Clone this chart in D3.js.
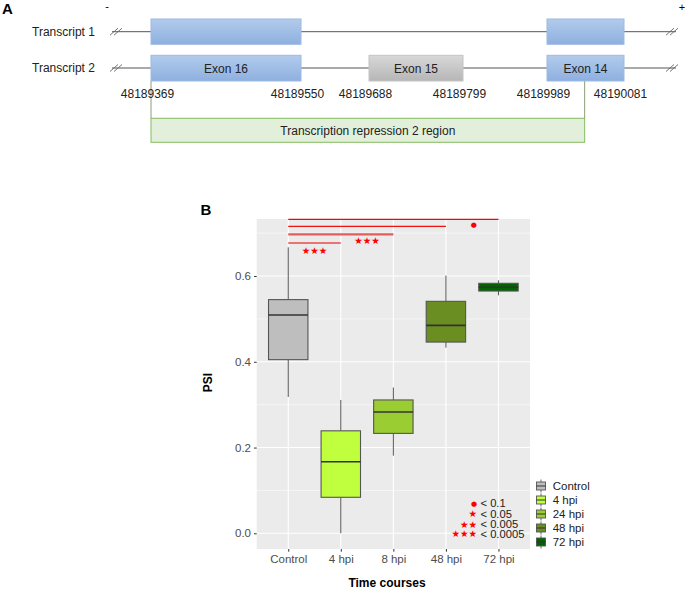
<!DOCTYPE html>
<html><head><meta charset="utf-8">
<script src="https://cdn.jsdelivr.net/npm/d3@7"></script>
<style>
body{margin:0;background:#fff;}
svg{display:block;font-family:"Liberation Sans",Arial,sans-serif;}
</style></head>
<body>
<svg id="c" width="685" height="589"></svg>
<script>
// ---------- Panel A data ----------
const transcripts = ["Transcript 1", "Transcript 2"];
const exonBounds = [48189369, 48189550, 48189688, 48189799, 48189989, 48190081];
const exonNames = ["Exon 16", "Exon 15", "Exon 14"];
const transcript1Exons = [[48189369, 48189550], [48189989, 48190081]];
const transcript2Exons = [[48189369, 48189550, "Exon 16"], [48189688, 48189799, "Exon 15"], [48189989, 48190081, "Exon 14"]];
const regionLabel = "Transcription repression 2 region";
const regionSpan = [48189369, 48190034];

// ---------- Panel B data ----------
const categories = ["Control", "4 hpi", "8 hpi", "48 hpi", "72 hpi"];
const legendLabels = ["Control", "4 hpi", "24 hpi", "48 hpi", "72 hpi"];
const fills = ["#bebebe", "#c0ff3e", "#9acd32", "#6b8e23", "#006400"];
const whiskerLow = [0.318, 0.000, 0.181, 0.433, 0.555];
const q1 = [0.405, 0.084, 0.233, 0.446, 0.565];
const medians = [0.509, 0.167, 0.283, 0.485, 0.574];
const q3 = [0.545, 0.239, 0.311, 0.541, 0.583];
const whiskerHigh = [0.667, 0.311, 0.340, 0.601, 0.590];
const yTicks = [0.0, 0.2, 0.4, 0.6];
const yMinor = [0.1, 0.3, 0.5, 0.7];
const bracketTo = ["72 hpi", "48 hpi", "8 hpi", "4 hpi"];
const bracketY = [0.732, 0.716, 0.697, 0.677];
const bracketLabel = ["●", "", "★★★", "★★★"];
const bracketLabelX = [4.53, 0, 2.5, 1.5];
const bracketLabelY = [0.720, 0, 0.682, 0.658];
const sigSymbols = ["●", "★", "★★", "★★★"];
const sigTexts = ["< 0.1", "< 0.05", "< 0.005", "< 0.0005"];
const sigY = [0.070, 0.045, 0.021, -0.002];

const svg = d3.select("#c");

// =============== PANEL A ===============
const gA = svg.append("g");
const gx = d3.scaleLinear().domain(exonBounds).range([151, 301, 369, 463, 547, 624]);
const rowY = d3.scalePoint().domain(transcripts).range([31.7, 68]);

const defs = svg.append("defs");
const gb = defs.append("linearGradient").attr("id", "gBlue").attr("x1", 0).attr("y1", 0).attr("x2", 0).attr("y2", 1);
gb.append("stop").attr("offset", "0%").attr("stop-color", "#b2cbec");
gb.append("stop").attr("offset", "100%").attr("stop-color", "#8eb0df");
const gg = defs.append("linearGradient").attr("id", "gGray").attr("x1", 0).attr("y1", 0).attr("x2", 0).attr("y2", 1);
gg.append("stop").attr("offset", "0%").attr("stop-color", "#d8d8d8");
gg.append("stop").attr("offset", "100%").attr("stop-color", "#b6b6b6");

gA.append("text").attr("x", 2).attr("y", 14).attr("font-size", 15).attr("font-weight", "bold").text("A");
gA.append("text").attr("x", 107).attr("y", 10).attr("font-size", 11).attr("text-anchor", "middle").text("-");
gA.append("text").attr("x", 682).attr("y", 11).attr("font-size", 11).attr("text-anchor", "middle").text("+");

transcripts.forEach(t => {
  const yy = rowY(t);
  gA.append("text").attr("x", 32).attr("y", yy + 4).attr("font-size", 12).attr("fill", "#222").text(t);
  gA.append("line").attr("x1", 112).attr("x2", 676).attr("y1", yy).attr("y2", yy).attr("stroke", "#555").attr("stroke-width", 1);
  [110, 666].forEach(hx => {
    [0, 4].forEach(o => {
      gA.append("line").attr("x1", hx + o).attr("y1", yy + 3.5).attr("x2", hx + o + 8).attr("y2", yy - 3.5)
        .attr("stroke", "#666").attr("stroke-width", 0.9);
    });
  });
});

// Region connectors and box
const regTop = 118.3, regBot = 142.3;
regionSpan.forEach(v => {
  gA.append("line").attr("x1", gx(v)).attr("x2", gx(v)).attr("y1", 81).attr("y2", regTop).attr("stroke", "#8c9c78").attr("stroke-width", 1);
});
gA.append("rect").attr("x", gx(regionSpan[0])).attr("y", regTop).attr("width", gx(regionSpan[1]) - gx(regionSpan[0])).attr("height", regBot - regTop)
  .attr("fill", "#e2efda").attr("stroke", "#86bb62").attr("stroke-width", 1);
gA.append("text").attr("x", (gx(regionSpan[0]) + gx(regionSpan[1])) / 2).attr("y", 135).attr("font-size", 12)
  .attr("text-anchor", "middle").attr("fill", "#222").text(regionLabel);

// Exons
transcript1Exons.forEach(e => {
  gA.append("rect").attr("x", gx(e[0])).attr("y", 19).attr("width", gx(e[1]) - gx(e[0])).attr("height", 25.3)
    .attr("fill", "url(#gBlue)").attr("stroke", "#9dbae2").attr("stroke-width", 1);
});
transcript2Exons.forEach(e => {
  const gray = e[2] === "Exon 15";
  gA.append("rect").attr("x", gx(e[0])).attr("y", 55.3).attr("width", gx(e[1]) - gx(e[0])).attr("height", 25.7)
    .attr("fill", gray ? "url(#gGray)" : "url(#gBlue)").attr("stroke", gray ? "#c4c4c4" : "#9dbae2").attr("stroke-width", 1);
  gA.append("text").attr("x", (gx(e[0]) + gx(e[1])) / 2).attr("y", 72.5).attr("font-size", 12)
    .attr("text-anchor", "middle").attr("fill", "#222").text(e[2]);
});
exonBounds.forEach(b => {
  gA.append("text").attr("x", gx(b) - 3.5).attr("y", 97.5).attr("font-size", 12).attr("text-anchor", "middle").attr("fill", "#222").text(b);
});

// =============== PANEL B ===============
const gB = svg.append("g");
const L = 256.7, R = 530, T = 219, B = 549;
const xi = d3.scaleLinear().domain([0.4, categories.length + 0.6]).range([L, R]);
const xc = c => xi(categories.indexOf(c) + 1);
const y = d3.scaleLinear().domain([-0.0366, 0.733]).range([B, T]);

gB.append("text").attr("x", 200.5).attr("y", 214.5).attr("font-size", 15).attr("font-weight", "bold").text("B");
gB.append("rect").attr("x", L).attr("y", T).attr("width", R - L).attr("height", B - T).attr("fill", "#ebebeb");

yMinor.forEach(v => gB.append("line").attr("x1", L).attr("x2", R).attr("y1", y(v)).attr("y2", y(v)).attr("stroke", "#fff").attr("stroke-width", 0.55));
yTicks.forEach(v => gB.append("line").attr("x1", L).attr("x2", R).attr("y1", y(v)).attr("y2", y(v)).attr("stroke", "#fff").attr("stroke-width", 1.1));
categories.forEach(c => gB.append("line").attr("x1", xc(c)).attr("x2", xc(c)).attr("y1", T).attr("y2", B).attr("stroke", "#fff").attr("stroke-width", 1.1));

// Axes
const yAxis = d3.axisLeft(y).tickValues(yTicks).tickFormat(d3.format(".1f")).tickSize(2.7).tickPadding(3);
const ya = gB.append("g").attr("transform", `translate(${L},0)`).call(yAxis);
ya.select(".domain").remove();
ya.selectAll("line").attr("stroke", "#333");
ya.selectAll("text").attr("font-size", 11.5).attr("fill", "#4d4d4d").attr("font-family", "Liberation Sans, Arial, sans-serif");

const xAxis = d3.axisBottom(xi).tickValues(d3.range(1, categories.length + 1)).tickFormat(i => categories[i - 1]).tickSize(2.7).tickPadding(3.5);
const xa = gB.append("g").attr("transform", `translate(0,${B})`).call(xAxis);
xa.select(".domain").remove();
xa.selectAll("line").attr("stroke", "#333");
xa.selectAll("text").attr("font-size", 11.5).attr("fill", "#4d4d4d").attr("font-family", "Liberation Sans, Arial, sans-serif");

gB.append("text").attr("transform", "translate(212,382.5) rotate(-90)").attr("text-anchor", "middle")
  .attr("font-size", 12).attr("font-weight", "bold").text("PSI");
gB.append("text").attr("x", 387).attr("y", 587).attr("text-anchor", "middle")
  .attr("font-size", 12).attr("font-weight", "bold").text("Time courses");

// Boxplots
categories.forEach((c, i) => {
  const cx = xc(c);
  const half = (xi(1.375) - xi(1));
  gB.append("line").attr("x1", cx).attr("x2", cx).attr("y1", y(whiskerHigh[i])).attr("y2", y(q3[i])).attr("stroke", "#555").attr("stroke-width", 1);
  gB.append("line").attr("x1", cx).attr("x2", cx).attr("y1", y(q1[i])).attr("y2", y(whiskerLow[i])).attr("stroke", "#555").attr("stroke-width", 1);
  gB.append("rect").attr("x", cx - half).attr("y", y(q3[i])).attr("width", 2 * half).attr("height", y(q1[i]) - y(q3[i]))
    .attr("fill", fills[i]).attr("stroke", "#555").attr("stroke-width", 1.1);
  gB.append("line").attr("x1", cx - half).attr("x2", cx + half).attr("y1", y(medians[i])).attr("y2", y(medians[i]))
    .attr("stroke", "#333").attr("stroke-width", 1.6);
});

// Significance brackets
const bracketColors = ["#ff0000", "#f01010", "#e25c5c", "#e84a4a"];
const bracketWidths = [1.2, 1.2, 2.2, 1.5];
bracketTo.forEach((t, i) => {
  gB.append("line").attr("x1", xc("Control")).attr("x2", xc(t)).attr("y1", y(bracketY[i])).attr("y2", y(bracketY[i]))
    .attr("stroke", bracketColors[i]).attr("stroke-width", bracketWidths[i]);
  if (bracketLabel[i]) {
    gB.append("text").attr("x", xi(bracketLabelX[i])).attr("y", y(bracketLabelY[i])).attr("dy", "0.35em")
      .attr("text-anchor", "middle").attr("fill", "red").attr("font-family", "DejaVu Sans")
      .attr("font-size", bracketLabel[i] === "●" ? 7 : 9.5).text(bracketLabel[i]);
  }
});

// Significance key inside panel
sigSymbols.forEach((s, i) => {
  const yy = y(sigY[i]);
  gB.append("text").attr("x", 477).attr("y", yy).attr("dy", "0.35em").attr("text-anchor", "end").attr("fill", "red")
    .attr("font-family", "DejaVu Sans").attr("font-size", s === "●" ? 7 : 9.5).text(s);
  gB.append("text").attr("x", 480.5).attr("y", yy).attr("dy", "0.35em").attr("font-size", 11.2).attr("fill", "#222").text(sigTexts[i]);
});

// Legend
const legY = d3.scalePoint().domain(legendLabels).range([486, 542]);
legendLabels.forEach((lab, i) => {
  const ly = legY(lab);
  const kx = 541;
  gB.append("line").attr("x1", kx).attr("x2", kx).attr("y1", ly - 6.5).attr("y2", ly + 6.5).attr("stroke", "#555").attr("stroke-width", 0.9);
  gB.append("rect").attr("x", kx - 4.5).attr("y", ly - 4).attr("width", 9).attr("height", 8).attr("fill", fills[i]).attr("stroke", "#555").attr("stroke-width", 0.9);
  gB.append("line").attr("x1", kx - 4.5).attr("x2", kx + 4.5).attr("y1", ly).attr("y2", ly).attr("stroke", "#333").attr("stroke-width", 1);
  gB.append("text").attr("x", 552.7).attr("y", ly).attr("dy", "0.36em").attr("font-size", 11.5).attr("fill", "#222").text(lab);
});
</script>
</body></html>
